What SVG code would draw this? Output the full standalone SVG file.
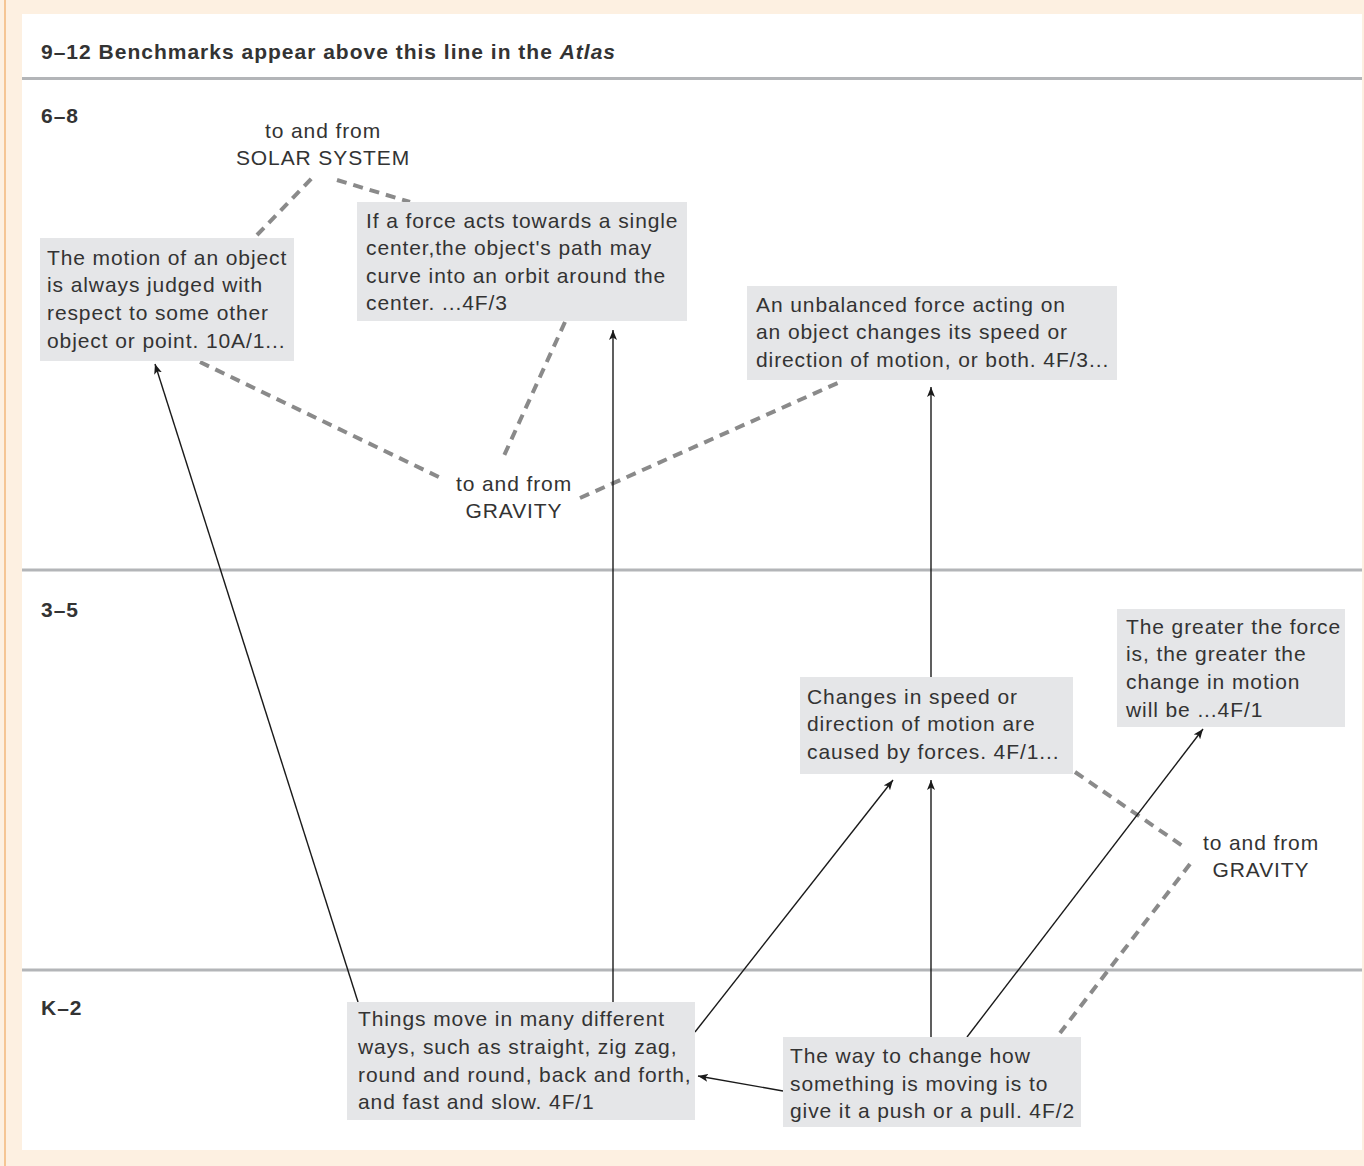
<svg xmlns="http://www.w3.org/2000/svg" width="1364" height="1166" viewBox="0 0 1364 1166">
<style>
.t{font-family:"Liberation Sans",Arial,sans-serif;font-size:21px;letter-spacing:0.9px;fill:#333333}
.h{font-family:"Liberation Sans",Arial,sans-serif;font-size:21px;letter-spacing:1px;font-weight:bold;fill:#333333}
.box{fill:#e5e6e8}
.band{stroke:#b3b5b8;stroke-width:3}
.sol{stroke:#1a1a1a;stroke-width:1.4;fill:none;marker-end:url(#ah)}
.dash{stroke:#8a8a8a;stroke-width:4;stroke-dasharray:10 7;fill:none}
</style>
<defs>
<marker id="ah" viewBox="0 0 10 8" refX="10" refY="4" markerWidth="10" markerHeight="8" markerUnits="userSpaceOnUse" orient="auto">
<path d="M0,0 L10,4 L0,8 L2.5,4 Z" fill="#1a1a1a"/>
</marker>
</defs>
<rect x="0" y="0" width="1364" height="1166" fill="#fdf0e1"/>
<line x1="5" y1="0" x2="5" y2="1166" stroke="#f0a860" stroke-width="1.2"/>
<rect x="22" y="14" width="1340" height="1136" fill="#ffffff"/>
<g id="bands">
<line class="band" x1="22" y1="78.5" x2="1362" y2="78.5"/>
<line class="band" x1="22" y1="570" x2="1362" y2="570"/>
<line class="band" x1="22" y1="970" x2="1362" y2="970"/>
<text class="h" x="41" y="59">9–12 Benchmarks appear above this line in the <tspan font-style="italic">Atlas</tspan></text>
<text class="h" x="41" y="123">6–8</text>
<text class="h" x="41" y="617">3–5</text>
<text class="h" x="41" y="1015">K–2</text>
</g>
<g id="connectors">
<line class="dash" x1="257" y1="235" x2="313" y2="177"/>
<line class="dash" x1="337" y1="180" x2="410" y2="202"/>
<line class="dash" x1="200" y1="362" x2="445" y2="480"/>
<line class="dash" x1="565" y1="322" x2="502" y2="460"/>
<line class="dash" x1="580" y1="498" x2="840" y2="382"/>
<line class="dash" x1="1075" y1="772" x2="1187" y2="849"/>
<line class="dash" x1="1190" y1="864" x2="1060" y2="1033"/>
<line class="sol" x1="358" y1="1002" x2="155" y2="364"/>
<line class="sol" x1="613" y1="1002" x2="613" y2="330"/>
<line class="sol" x1="695" y1="1032" x2="893" y2="780"/>
<line class="sol" x1="783" y1="1091" x2="698" y2="1076"/>
<line class="sol" x1="931" y1="1037" x2="931" y2="780"/>
<line class="sol" x1="967" y1="1037" x2="1203" y2="729"/>
<line class="sol" x1="931" y1="677" x2="931" y2="387"/>
</g>
<g id="solar-label">
<text class="t" x="323" y="138" text-anchor="middle">to and from</text>
<text class="t" x="323" y="165" text-anchor="middle">SOLAR SYSTEM</text>
</g>
<g id="gravity-label-1">
<text class="t" x="514" y="491" text-anchor="middle">to and from</text>
<text class="t" x="514" y="518" text-anchor="middle">GRAVITY</text>
</g>
<g id="gravity-label-2">
<text class="t" x="1261" y="850" text-anchor="middle">to and from</text>
<text class="t" x="1261" y="877" text-anchor="middle">GRAVITY</text>
</g>
<g id="node-motion">
<rect class="box" x="40" y="238" width="254" height="123"/>
<text class="t" x="47" y="265">The motion of an object</text>
<text class="t" x="47" y="292">is always judged with</text>
<text class="t" x="47" y="320">respect to some other</text>
<text class="t" x="47" y="348">object or point. 10A/1...</text>
</g>
<g id="node-orbit">
<rect class="box" x="357" y="202" width="330" height="119"/>
<text class="t" x="366" y="228">If a force acts towards a single</text>
<text class="t" x="366" y="255">center,the object's path may</text>
<text class="t" x="366" y="283">curve into an orbit around the</text>
<text class="t" x="366" y="310">center. ...4F/3</text>
</g>
<g id="node-unbalanced">
<rect class="box" x="747" y="286" width="370" height="94"/>
<text class="t" x="756" y="312">An unbalanced force acting on</text>
<text class="t" x="756" y="339">an object changes its speed or</text>
<text class="t" x="756" y="367">direction of motion, or both. 4F/3...</text>
</g>
<g id="node-changes">
<rect class="box" x="800" y="677" width="273" height="97"/>
<text class="t" x="807" y="704">Changes in speed or</text>
<text class="t" x="807" y="731">direction of motion are</text>
<text class="t" x="807" y="759">caused by forces. 4F/1...</text>
</g>
<g id="node-greater">
<rect class="box" x="1117" y="609" width="228" height="118"/>
<text class="t" x="1126" y="634">The greater the force</text>
<text class="t" x="1126" y="661">is, the greater the</text>
<text class="t" x="1126" y="689">change in motion</text>
<text class="t" x="1126" y="717">will be ...4F/1</text>
</g>
<g id="node-things">
<rect class="box" x="347" y="1002" width="348" height="118"/>
<text class="t" x="358" y="1026">Things move in many different</text>
<text class="t" x="358" y="1054">ways, such as straight, zig zag,</text>
<text class="t" x="358" y="1082">round and round, back and forth,</text>
<text class="t" x="358" y="1109">and fast and slow. 4F/1</text>
</g>
<g id="node-way">
<rect class="box" x="783" y="1037" width="298" height="90"/>
<text class="t" x="790" y="1063">The way to change how</text>
<text class="t" x="790" y="1091">something is moving is to</text>
<text class="t" x="790" y="1118">give it a push or a pull. 4F/2</text>
</g>
</svg>
